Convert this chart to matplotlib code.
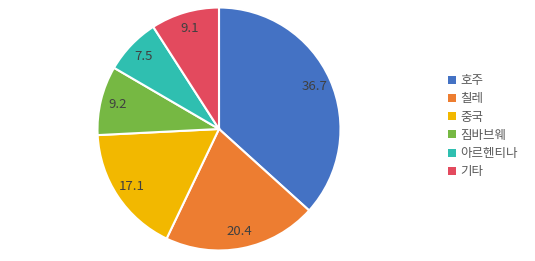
import matplotlib
matplotlib.use("Agg")
import matplotlib.pyplot as plt
from matplotlib.patches import Patch

plt.rcParams['font.family'] = ['Noto Sans CJK KR', 'DejaVu Sans']

categories = ['호주', '칠레', '중국', '짐바브웨', '아르헨티나', '기타']
values = [36.7, 20.4, 17.1, 9.2, 7.5, 9.1]
colors = ['#4472C4', '#ED7D31', '#F2B800', '#76B843', '#2FBFB0', '#E34A5E']

W, H = 535, 261
fig = plt.figure(figsize=(W / 100, H / 100), dpi=100)
cx, cy, r = 219, 129, 121.5
ax = fig.add_axes([(cx - r) / W, (H - cy - r) / H, 2 * r / W, 2 * r / H])
wedges, texts = ax.pie(values, colors=colors, startangle=90, counterclock=False,
                       labels=[f'{v}' for v in values], labeldistance=0.86,
                       wedgeprops=dict(edgecolor='white', linewidth=1.5),
                       textprops=dict(color='#404040', fontsize=9.5))
for t in texts:
    t.set_ha('center')
    t.set_va('center')
ax.set_xlim(-1, 1)
ax.set_ylim(-1, 1)
ax.set_aspect('equal')
ax.axis('off')

handles = [Patch(facecolor=c, edgecolor='none') for c in colors]
fig.legend(handles, categories, loc='upper left', bbox_to_anchor=(448 / W, 1 - 74 / H),
           frameon=False, fontsize=9, labelcolor='#595959',
           handlelength=0.6, handleheight=0.6, handletextpad=0.4, labelspacing=0.42,
           borderaxespad=0, borderpad=0)

fig.savefig('out.png', dpi=100)
